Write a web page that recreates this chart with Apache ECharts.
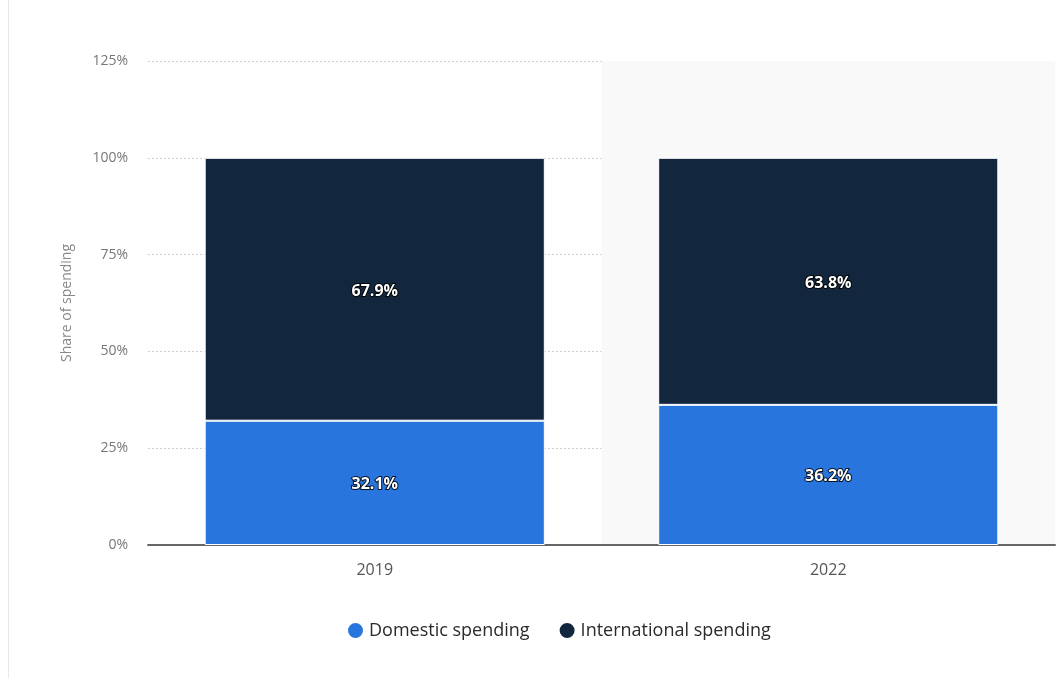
<!DOCTYPE html>
<html>
<head>
<meta charset="utf-8">
<script src="https://cdn.jsdelivr.net/npm/echarts@6/dist/echarts.min.js"></script>
<style>
  html, body { margin: 0; padding: 0; background: #fff; }
  #chart { width: 1062px; height: 678px; }
</style>
</head>
<body>
<div id="chart"></div>
<script>
// Share of spending by year, domestic vs. international
const years = ['2019', '2022'];
const domestic = [32.1, 36.2];
const international = [67.9, 63.8];
const yTicks = { min: 0, max: 125, interval: 25 };

const FONT = '"Open Sans", "Noto Sans", sans-serif';

const barLabel = {
  show: true,
  position: 'inside',
  offset: [0, 2],
  color: '#fff',
  fontFamily: FONT,
  fontWeight: 'bold',
  fontSize: 16,
  textBorderColor: 'rgba(0,0,0,0.85)',
  textBorderWidth: 2,
  formatter: p => p.value.toFixed(1) + '%'
};

const chart = echarts.init(document.getElementById('chart'), null, { renderer: 'canvas' });
chart.setOption({
  animation: false,
  backgroundColor: '#fff',
  graphic: [{
    type: 'line',
    shape: { x1: 8.5, y1: 0, x2: 8.5, y2: 678 },
    style: { stroke: '#e8e8e8', lineWidth: 1 },
    silent: true
  }],
  grid: { left: 148, right: 7, top: 61, bottom: 133, containLabel: false },
  legend: {
    top: 616,
    left: 341,
    itemGap: 28,
    itemWidth: 17,
    itemHeight: 17,
    icon: 'circle',
    textStyle: { fontFamily: FONT, fontSize: 18, color: '#2a2a2a' },
    data: ['Domestic spending', 'International spending']
  },
  xAxis: {
    type: 'category',
    data: years,
    axisLine: { lineStyle: { color: '#666', width: 2 } },
    axisTick: { show: false },
    axisLabel: { fontFamily: FONT, fontSize: 16, color: '#555', margin: 17 },
    splitArea: { show: true, areaStyle: { color: ['rgba(0,0,0,0)', '#f9f9f9'] } }
  },
  yAxis: {
    type: 'value',
    min: yTicks.min,
    max: yTicks.max,
    interval: yTicks.interval,
    name: 'Share of spending',
    nameLocation: 'middle',
    nameGap: 74,
    nameTextStyle: { fontFamily: FONT, fontSize: 14, color: '#888' },
    axisLine: { show: false },
    axisTick: { show: false },
    axisLabel: { fontFamily: FONT, fontSize: 14, color: '#777', margin: 20, formatter: '{value}%' },
    splitLine: { lineStyle: { color: '#cfcfcf', type: [2, 2], width: 1 } }
  },
  series: [
    {
      name: 'Domestic spending',
      type: 'bar',
      stack: 'total',
      barWidth: '75%',
      data: domestic,
      itemStyle: { color: '#2876dd', borderColor: '#fff', borderWidth: 1 },
      label: barLabel
    },
    {
      name: 'International spending',
      type: 'bar',
      stack: 'total',
      barWidth: '75%',
      data: international,
      itemStyle: { color: '#12263d', borderColor: '#fff', borderWidth: 1 },
      label: barLabel
    }
  ]
});
</script>
</body>
</html>
